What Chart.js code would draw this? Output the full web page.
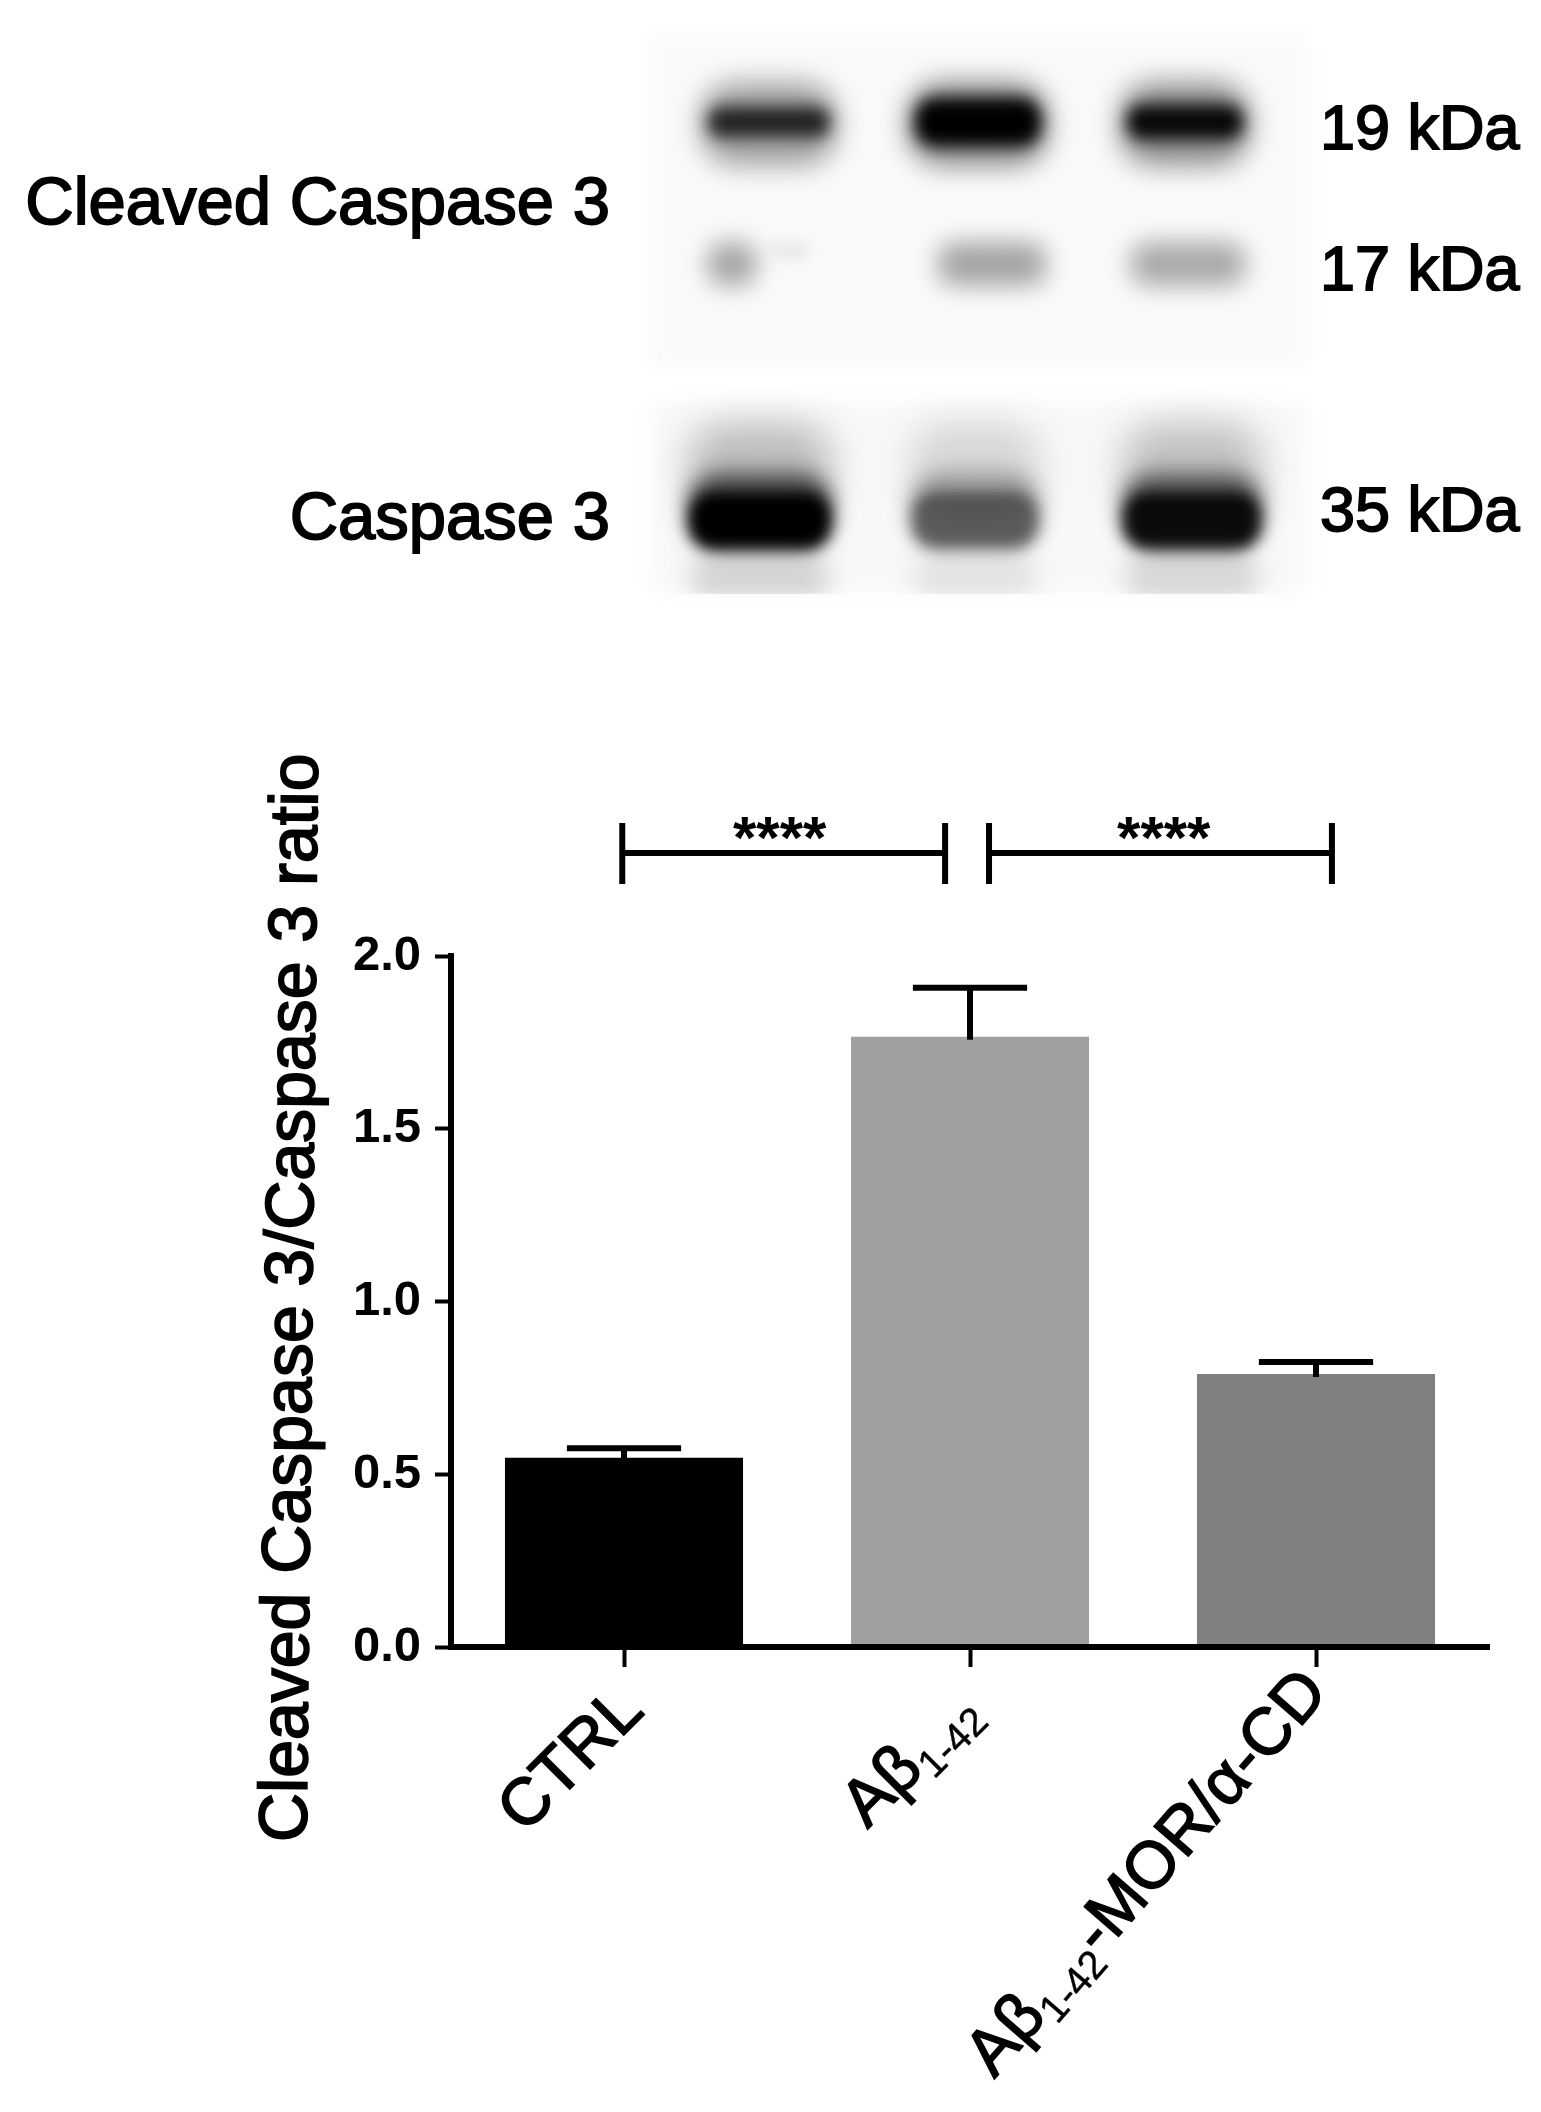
<!DOCTYPE html>
<html>
<head>
<meta charset="utf-8">
<title>Cleaved Caspase 3</title>
<script src="https://cdn.jsdelivr.net/npm/chart.js@4/dist/chart.umd.js"></script>
<style>
  html, body { margin: 0; padding: 0; background: #fff; }
  canvas { display: block; }
</style>
</head>
<body>
<canvas id="ratioChart" width="1541" height="2112"></canvas>
<script>
"use strict";

var categories = ['CTRL', 'Aβ1-42', 'Aβ1-42-MOR/α-CD'];
var ratioValues = [0.548, 1.766, 0.79];
var errorTops = [0.575, 1.908, 0.825];
var yTickValues = [0, 0.5, 1, 1.5, 2];

// bracket ends in category units, the level in ratio units
var bracketSpans = [[-0.005, 0.928], [1.055, 2.046]];
var bracketLevel = 2.298;
var bracketStars = ['****', '****'];
var bracketStarX = [0.45, 1.56];

// darkness of the blot bands per lane
var band19kDa = [0.78, 1, 0.95];
var band17kDa = [0.34, 0.34, 0.32];
var band35kDa = [1, 0.48, 0.9];

var barColors = ['#000000', '#a0a0a3', '#808080'];
var FONT = '"Liberation Sans", Arial, sans-serif';

// label pieces for the x axis, sub = small lowered text
var xLabelParts = [
  [{ t: 'CTRL' }],
  [{ t: 'Aβ' }, { t: '1-42', sub: true }],
  [{ t: 'Aβ' }, { t: '1-42', sub: true }, { t: '-MOR/α-CD' }]
];
var xLabelOffsets = [[22, 66], [12, 68], [14, 46]];
var xLabelAngles = [45, 45, 49];

function drawLabel(ctx, text, x, y, size, align) {
  ctx.save();
  ctx.font = size + 'px ' + FONT;
  ctx.fillStyle = '#000';
  ctx.strokeStyle = '#000';
  ctx.lineWidth = 1.8;
  ctx.textAlign = align;
  ctx.textBaseline = 'alphabetic';
  ctx.fillText(text, x, y);
  ctx.strokeText(text, x, y);
  ctx.restore();
}

function band(ctx, cx, cy, w, h, alpha, blur) {
  ctx.filter = 'blur(' + blur + 'px)';
  ctx.fillStyle = 'rgba(0,0,0,' + alpha + ')';
  ctx.beginPath();
  ctx.roundRect(cx - w / 2, cy - h / 2, w, h, h * 0.42);
  ctx.fill();
}

var blotPlugin = {
  id: 'blot',
  beforeDraw: function(chart) {
    var ctx = chart.ctx;
    var i;
    ctx.save();

    // top panel
    ctx.save();
    ctx.filter = 'blur(10px)';
    ctx.fillStyle = '#fafafa';
    ctx.fillRect(650, 34, 658, 334);
    ctx.restore();

    var lanes19 = [769, 978, 1185];
    var widths19 = [122, 126, 116];
    var heights19 = [30, 48, 34];
    for (i = 0; i < 3; i++) {
      band(ctx, lanes19[i], 124, widths19[i] + 14, 82, band19kDa[i] * 0.48, 14);
      band(ctx, lanes19[i], 122, widths19[i], heights19[i], band19kDa[i], 8);
    }

    var lanes17 = [732, 992, 1188];
    var widths17 = [50, 110, 116];
    for (i = 0; i < 3; i++) {
      band(ctx, lanes17[i], 264, widths17[i], 44, band17kDa[i], 12);
    }
    band(ctx, 790, 250, 40, 14, 0.09, 8);
    ctx.filter = 'none';

    // bottom panel, the bands get cut by its lower edge
    ctx.save();
    ctx.filter = 'blur(10px)';
    ctx.fillStyle = '#f8f8f8';
    ctx.fillRect(652, 402, 654, 190);
    ctx.restore();

    ctx.save();
    ctx.beginPath();
    ctx.rect(640, 390, 680, 204);
    ctx.clip();
    var lanes35 = [760, 975, 1192];
    var widths35 = [144, 130, 140];
    for (i = 0; i < 3; i++) {
      band(ctx, lanes35[i], 468, widths35[i], 90, band35kDa[i] * 0.2 + 0.04, 18);
      band(ctx, lanes35[i], 578, widths35[i] - 6, 44, band35kDa[i] * 0.12 + 0.03, 12);
      band(ctx, lanes35[i], 512, widths35[i] + 4, 78, band35kDa[i] * 0.6, 10);
      band(ctx, lanes35[i], 520, widths35[i] - 4, 56, band35kDa[i], 7);
    }
    ctx.restore();
    ctx.filter = 'none';
    ctx.restore();

    drawLabel(ctx, 'Cleaved Caspase 3', 610, 224, 67, 'right');
    drawLabel(ctx, 'Caspase 3', 610, 539, 67, 'right');
    drawLabel(ctx, '19 kDa', 1320, 149, 63, 'left');
    drawLabel(ctx, '17 kDa', 1320, 290, 63, 'left');
    drawLabel(ctx, '35 kDa', 1320, 531, 63, 'left');
  }
};

var errorBarPlugin = {
  id: 'errorBars',
  afterDatasetsDraw: function(chart) {
    var ctx = chart.ctx;
    var y = chart.scales.y;
    var bars = chart.getDatasetMeta(0).data;
    ctx.save();
    ctx.strokeStyle = '#000';
    ctx.lineWidth = 6;
    errorTops.forEach(function(top, i) {
      var x = bars[i].x;
      var capHalf = bars[i].width * 0.24;
      ctx.beginPath();
      ctx.moveTo(x, y.getPixelForValue(ratioValues[i]) + 3);
      ctx.lineTo(x, y.getPixelForValue(top));
      ctx.moveTo(x - capHalf, y.getPixelForValue(top));
      ctx.lineTo(x + capHalf, y.getPixelForValue(top));
      ctx.stroke();
    });
    ctx.restore();
  }
};

var annotationPlugin = {
  id: 'annotations',
  afterDraw: function(chart) {
    var ctx = chart.ctx;
    var xs = chart.scales.x;
    var ys = chart.scales.y;
    var level = ys.getPixelForValue(bracketLevel);

    // significance brackets
    ctx.save();
    ctx.strokeStyle = '#000';
    ctx.lineWidth = 6;
    bracketSpans.forEach(function(span, i) {
      var x0 = xs.getPixelForValue(span[0]);
      var x1 = xs.getPixelForValue(span[1]);
      ctx.beginPath();
      ctx.moveTo(x0, level - 30);
      ctx.lineTo(x0, level + 31);
      ctx.moveTo(x1, level - 30);
      ctx.lineTo(x1, level + 31);
      ctx.moveTo(x0, level);
      ctx.lineTo(x1, level);
      ctx.stroke();
      ctx.font = 'bold 60px ' + FONT;
      ctx.fillStyle = '#000';
      ctx.textAlign = 'center';
      ctx.textBaseline = 'alphabetic';
      ctx.fillText(bracketStars[i], xs.getPixelForValue(bracketStarX[i]), level + 5);
    });
    ctx.restore();

    // y title, the original sits a little off vertical
    ctx.save();
    ctx.translate(312, 1298);
    ctx.rotate((-90 + 0.6) * Math.PI / 180);
    ctx.font = '68px ' + FONT;
    ctx.fillStyle = '#000';
    ctx.strokeStyle = '#000';
    ctx.lineWidth = 1.8;
    ctx.textAlign = 'center';
    ctx.textBaseline = 'alphabetic';
    ctx.fillText('Cleaved Caspase 3/Caspase 3 ratio', 0, 0);
    ctx.strokeText('Cleaved Caspase 3/Caspase 3 ratio', 0, 0);
    ctx.restore();

    // rotated category labels with subscripts
    xLabelParts.forEach(function(parts, i) {
      var anchorX = xs.getPixelForTick(i) + xLabelOffsets[i][0];
      var anchorY = chart.chartArea.bottom + xLabelOffsets[i][1];
      var fontFor = function(p) { return (p.sub ? 40 : 66) + 'px ' + FONT; };
      var total = 0;
      ctx.save();
      parts.forEach(function(p) {
        ctx.font = fontFor(p);
        total += ctx.measureText(p.t).width;
      });
      ctx.translate(anchorX, anchorY);
      ctx.rotate(-xLabelAngles[i] * Math.PI / 180);
      ctx.textAlign = 'left';
      ctx.textBaseline = 'alphabetic';
      ctx.fillStyle = '#000';
      ctx.strokeStyle = '#000';
      var pos = -total;
      parts.forEach(function(p) {
        ctx.font = fontFor(p);
        ctx.lineWidth = p.sub ? 0.4 : 1.6;
        ctx.fillText(p.t, pos, p.sub ? 12 : 0);
        ctx.strokeText(p.t, pos, p.sub ? 12 : 0);
        pos += ctx.measureText(p.t).width;
      });
      ctx.restore();
    });
  }
};

var ratioChart = new Chart(document.getElementById('ratioChart').getContext('2d'), {
  type: 'bar',
  data: {
    labels: categories,
    datasets: [{
      label: 'Cleaved Caspase 3/Caspase 3 ratio',
      data: ratioValues,
      backgroundColor: barColors,
      borderWidth: 0,
      barPercentage: 0.688,
      categoryPercentage: 1
    }]
  },
  options: {
    responsive: false,
    animation: false,
    layout: { padding: { left: 0, right: 52, top: 956, bottom: 0 } },
    plugins: {
      legend: { display: false },
      tooltip: { enabled: false }
    },
    scales: {
      x: {
        afterFit: function(scale) { scale.height = 465; },
        grid: { offset: false, drawOnChartArea: false, tickLength: 20, tickWidth: 4, tickColor: '#000' },
        border: { color: '#000', width: 6, z: 1 },
        ticks: { display: false }
      },
      y: {
        min: 0,
        max: 2,
        afterFit: function(scale) { scale.width = 451; },
        afterBuildTicks: function(scale) {
          scale.ticks = yTickValues.map(function(v) { return { value: v }; });
        },
        grid: { drawOnChartArea: false, tickLength: 16, tickWidth: 4, tickColor: '#000' },
        border: { color: '#000', width: 6 },
        ticks: {
          color: '#000',
          padding: 14,
          font: { family: FONT, size: 49, weight: 'bold' },
          callback: function(v) { return v.toFixed(1); }
        }
      }
    }
  },
  plugins: [blotPlugin, errorBarPlugin, annotationPlugin]
});
</script>
</body>
</html>
